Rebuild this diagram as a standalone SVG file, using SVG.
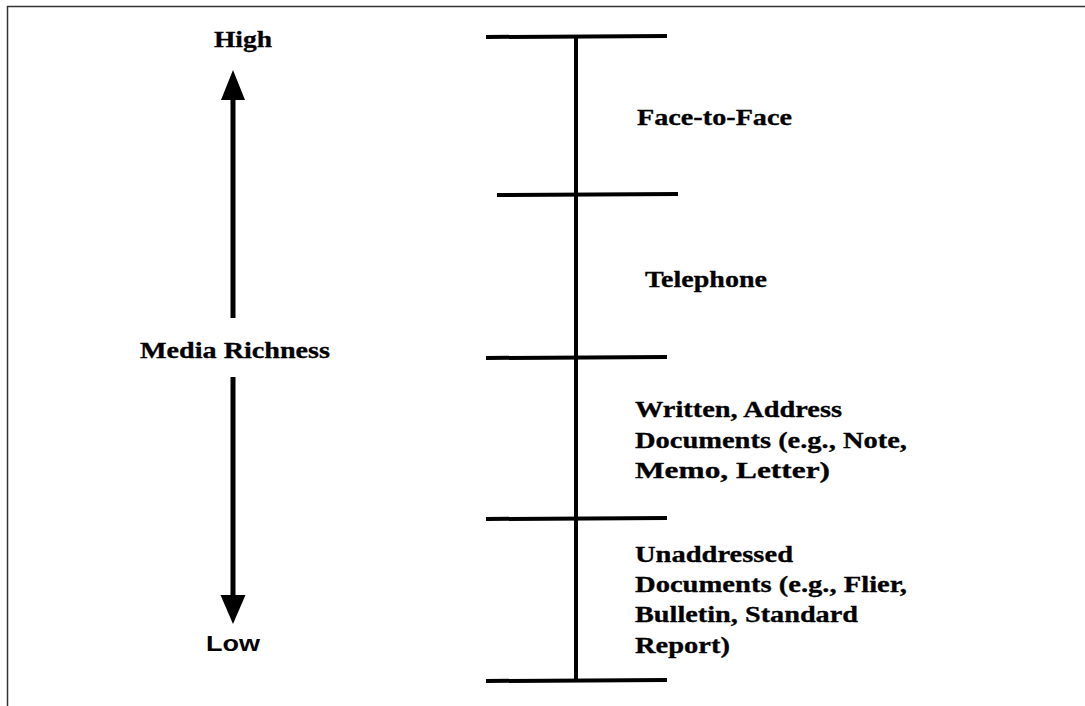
<svg xmlns="http://www.w3.org/2000/svg" width="1085" height="706" viewBox="0 0 1085 706">
  <style>
    .lbl { font-family: "Liberation Serif", "Times New Roman", serif; font-weight: bold; font-size: 23px; fill: #000; stroke: #000; stroke-width: 0.3; }
    .sans { font-family: "Liberation Sans", Arial, sans-serif; font-weight: bold; font-size: 22px; fill: #000; }
    .bar { stroke: #000; stroke-width: 4; fill: none; }
    .shaft { stroke: #000; stroke-width: 5; fill: none; }
    .frame { stroke: #333; stroke-width: 1.5; fill: none; }
  </style>

  <rect x="0" y="0" width="1085" height="706" fill="#fff"/>

  <!-- frame -->
  <path class="frame" d="M7.5,706 V6.5 H1085"/>

  <!-- richness axis: arrows and labels -->
  <g id="axis">
    <text class="lbl" x="214" y="47" textLength="58" lengthAdjust="spacingAndGlyphs">High</text>
    <line class="shaft" x1="233" y1="98" x2="233" y2="318"/>
    <polygon points="233,70 221,100 245,100" fill="#000"/>
    <text class="lbl" x="140" y="358" textLength="190" lengthAdjust="spacingAndGlyphs">Media Richness</text>
    <line class="shaft" x1="233" y1="377" x2="233" y2="597"/>
    <polygon points="233,624 220.5,595 245.5,595" fill="#000"/>
    <text class="sans" x="206" y="651" textLength="54" lengthAdjust="spacingAndGlyphs">Low</text>
  </g>

  <!-- scale: spine and tick bars -->
  <g id="scale">
    <line class="bar" x1="576" y1="36" x2="576" y2="681" stroke-width="4.5"/>
    <line class="bar" x1="486" y1="37" x2="667" y2="36"/>
    <line class="bar" x1="497" y1="195" x2="678" y2="194"/>
    <line class="bar" x1="486" y1="358" x2="667" y2="357"/>
    <line class="bar" x1="486" y1="519" x2="667" y2="518"/>
    <line class="bar" x1="486" y1="681" x2="667" y2="680"/>
  </g>

  <g id="face-to-face">
    <text class="lbl" x="637" y="125" textLength="155" lengthAdjust="spacingAndGlyphs">Face-to-Face</text>
  </g>

  <g id="telephone">
    <text class="lbl" x="645" y="287" textLength="122" lengthAdjust="spacingAndGlyphs">Telephone</text>
  </g>

  <g id="written-addressed">
    <text class="lbl" x="635" y="417" textLength="207" lengthAdjust="spacingAndGlyphs">Written, Address</text>
    <text class="lbl" x="635" y="448" textLength="272" lengthAdjust="spacingAndGlyphs">Documents (e.g., Note,</text>
    <text class="lbl" x="635" y="478" textLength="195" lengthAdjust="spacingAndGlyphs">Memo, Letter)</text>
  </g>

  <g id="unaddressed">
    <text class="lbl" x="635" y="562" textLength="158" lengthAdjust="spacingAndGlyphs">Unaddressed</text>
    <text class="lbl" x="635" y="592" textLength="272" lengthAdjust="spacingAndGlyphs">Documents (e.g., Flier,</text>
    <text class="lbl" x="635" y="622" textLength="223" lengthAdjust="spacingAndGlyphs">Bulletin, Standard</text>
    <text class="lbl" x="635" y="653" textLength="95" lengthAdjust="spacingAndGlyphs">Report)</text>
  </g>
</svg>
